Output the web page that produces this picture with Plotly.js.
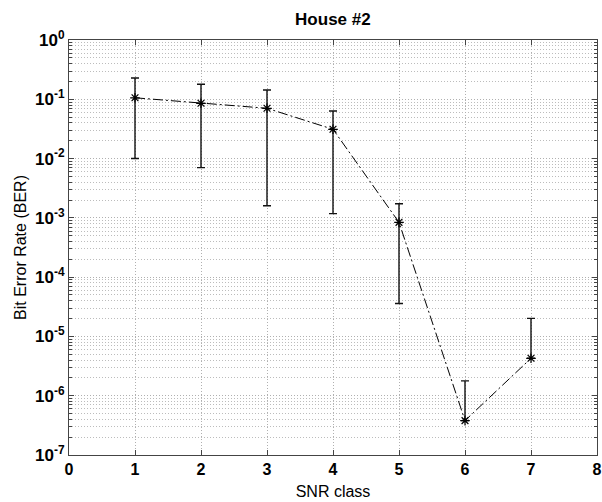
<!DOCTYPE html>
<html>
<head>
<meta charset="utf-8">
<script src="https://cdn.plot.ly/plotly-3.0.1.min.js"></script>
<style>html,body{margin:0;padding:0;background:#fff}#chart{width:602px;height:502px}</style>
</head>
<body>
<div id="chart"></div>
<script>
const snrClass = [1, 2, 3, 4, 5, 6, 7];
const ber = [0.106, 0.0856, 0.0705, 0.0312, 0.00084, 3.8e-7, 4.28e-6];
const berUpper = [0.229, 0.179, 0.1435, 0.0635, 0.00173, 1.78e-6, 2.02e-5];
const berLower = [0.0100, 0.00703, 0.0016, 0.00118, 3.6e-5, null, null];
const yTickVals = [1, 0.1, 0.01, 0.001, 1e-4, 1e-5, 1e-6, 1e-7];
const yTickText = ['10<sup>0</sup>', '10<sup>-1</sup>', '10<sup>-2</sup>', '10<sup>-3</sup>', '10<sup>-4</sup>', '10<sup>-5</sup>', '10<sup>-6</sup>', '10<sup>-7</sup>'];

const plus = ber.map((v, i) => berUpper[i] - v);
const minus = ber.map((v, i) => berLower[i] === null ? 0 : v - berLower[i]);

const font = 'Liberation Sans, Arial, Helvetica, sans-serif';
const trace = {
  x: snrClass, y: ber, type: 'scatter', mode: 'lines+markers',
  line: {color: '#000', width: 1, dash: '10px,3px,2px,3px'},
  marker: {symbol: 'asterisk-open', size: 8, color: '#000', line: {color: '#000', width: 1.2}},
  error_y: {type: 'data', symmetric: false, array: plus, arrayminus: minus, color: '#111', thickness: 1.4, width: 4},
  showlegend: false
};
const layout = {
  width: 602, height: 502,
  margin: {l: 69, r: 5, t: 40, b: 47},
  paper_bgcolor: '#fff', plot_bgcolor: '#fff',
  title: {text: '<b>House #2</b>', font: {family: font, size: 17, color: '#000'}, x: 0.553, xanchor: 'center', y: 0.963, yanchor: 'middle'},
  xaxis: {
    range: [0, 8], dtick: 1, tick0: 0,
    showgrid: true, gridcolor: '#b0b0b0', griddash: '1px,2px', gridwidth: 1,
    zeroline: false, showline: true, linecolor: '#444', linewidth: 1, mirror: 'ticks',
    ticks: 'inside', ticklen: 5, tickcolor: '#444',
    tickfont: {family: font, size: 16, color: '#000', weight: 'bold'},
    title: {text: 'SNR class', font: {family: font, size: 16, color: '#000'}, standoff: 8}
  },
  yaxis: {
    type: 'log', range: [-7, 0],
    tickmode: 'array', tickvals: yTickVals, ticktext: yTickText,
    showgrid: true, gridcolor: '#b0b0b0', griddash: '1px,2px', gridwidth: 1,
    minor: {dtick: 'D1', showgrid: true, gridcolor: '#bcbcbc', griddash: '1px,2px', gridwidth: 1, ticks: 'inside', ticklen: 3, tickcolor: '#444'},
    zeroline: false, showline: true, linecolor: '#444', linewidth: 1, mirror: 'ticks',
    ticks: 'inside', ticklen: 5, tickcolor: '#444',
    tickfont: {family: font, size: 17, color: '#000', weight: 'bold'},
    title: {text: 'Bit Error Rate (BER)', font: {family: font, size: 16, color: '#000'}, standoff: 4}
  }
};
Plotly.newPlot('chart', [trace], layout, {displayModeBar: false, staticPlot: true});
</script>
</body>
</html>
